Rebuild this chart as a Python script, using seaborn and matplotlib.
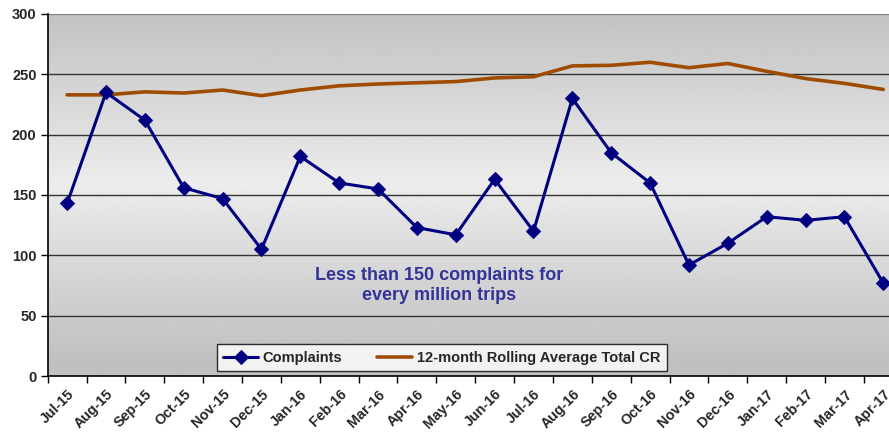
import numpy as np
import pandas as pd
import matplotlib
matplotlib.use("Agg")
import matplotlib.pyplot as plt
import seaborn as sns

months = ["Jul-15", "Aug-15", "Sep-15", "Oct-15", "Nov-15", "Dec-15", "Jan-16", "Feb-16",
          "Mar-16", "Apr-16", "May-16", "Jun-16", "Jul-16", "Aug-16", "Sep-16", "Oct-16",
          "Nov-16", "Dec-16", "Jan-17", "Feb-17", "Mar-17", "Apr-17"]
complaints = [143, 235, 212, 156, 147, 105, 182, 160, 155, 123, 117, 163, 120, 230,
              185, 160, 92, 110, 132, 129, 132, 77]
rolling_avg = [233, 233, 235.5, 234.5, 237, 232.3, 237, 240.5, 242, 243, 244, 247, 248,
               257, 257.5, 260, 255.5, 259, 252.5, 246.5, 242.5, 237.5]
yticks = [0, 50, 100, 150, 200, 250, 300]
note = "Less than 150 complaints for\nevery million trips"

sns.set_theme(style="white")
plt.rcParams["font.family"] = ["Liberation Sans", "DejaVu Sans"]

df = pd.DataFrame({"idx": np.arange(len(months)), "month": months,
                   "Complaints": complaints, "Rolling": rolling_avg})

fig = plt.figure(figsize=(8.89, 4.33), dpi=100)
ax = fig.add_axes([47.7 / 889, 57 / 433, 855 / 889, 362 / 433])

# gradient background
yy = np.linspace(0, 300, 300)
g = 0.75 + (0.925 - 0.75) * np.clip(1 - np.abs(yy - 160) / 150, 0, 1)
img = np.repeat(g[:, None], 2, axis=1)
ax.imshow(img, extent=(-0.5, len(months) - 0.5, 0, 300), origin="lower",
          cmap="gray", vmin=0, vmax=1, aspect="auto", zorder=0, interpolation="bilinear")

for v in yticks[1:-1]:
    ax.axhline(v, color="#333333", lw=1.0, zorder=1)
ax.axhline(300, color="#7f7f7f", lw=1.6, zorder=1)

sns.lineplot(data=df, x="idx", y="Complaints", ax=ax, color="#000080", lw=2.2,
             marker="D", markersize=7, markeredgecolor="#000080", label="Complaints",
             zorder=3)
sns.lineplot(data=df, x="idx", y="Rolling", ax=ax, color="#A04C00", lw=2.6,
             label="12-month Rolling Average Total CR", zorder=2)

ax.set_xlim(-0.5, len(months) - 0.5)
ax.set_ylim(0, 300)
ax.set_xlabel("")
ax.set_ylabel("")

ax.set_yticks(yticks)
ax.set_yticklabels([str(v) for v in yticks], fontsize=10.5, fontweight="bold")
ax.set_xticks(np.arange(len(months) + 1) - 0.5)
ax.set_xticklabels([])
ax.set_xticks(np.arange(len(months)), minor=True)
ax.set_xticklabels(months, minor=True, rotation=45, ha="right", rotation_mode="anchor",
                   fontsize=10.3, fontweight="bold")
ax.tick_params(axis="x", which="minor", length=0, pad=8)
ax.tick_params(axis="x", which="major", length=5, width=1, color="black", direction="out")
ax.tick_params(axis="y", length=5, width=1, color="black", direction="out", pad=3)
ax.xaxis.set_ticks_position("bottom")
ax.yaxis.set_ticks_position("left")

for s in ["top", "right"]:
    ax.spines[s].set_visible(False)
for s in ["left", "bottom"]:
    ax.spines[s].set_color("black")
    ax.spines[s].set_linewidth(1.2)

ax.text(9.56, 75, note, ha="center", va="center", fontsize=13, fontweight="bold",
        color="#333399", linespacing=1.3, zorder=4)

leg = ax.legend(loc="center", bbox_to_anchor=(0.461, 0.05), ncol=2, frameon=True,
                fancybox=False, shadow=False, handlelength=2.4, columnspacing=2.4,
                prop={"weight": "bold", "size": 10.5}, borderpad=0.45,
                handletextpad=0.3)
leg.get_frame().set_edgecolor("black")
leg.get_frame().set_linewidth(1.0)
leg.get_frame().set_facecolor("white")
leg.set_zorder(5)

fig.savefig("out.png", dpi=100)
